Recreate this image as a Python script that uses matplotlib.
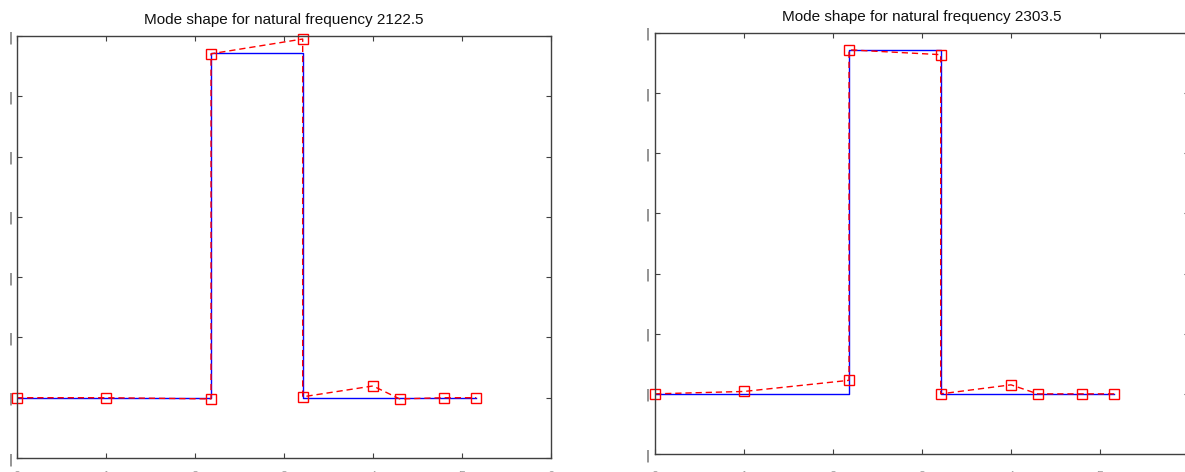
"""Two mode-shape panels: blue step profile with red dashed/square mode shape."""

import matplotlib

matplotlib.use("Agg")
import matplotlib.pyplot as plt

# --------------------------------------------------------------------------- #
#  Data
# --------------------------------------------------------------------------- #

# node positions along the structure (shared by both panels)
node_x = [0.0, 1.0, 2.18, 2.18, 3.21, 3.21, 4.0, 4.3, 4.8, 5.16]

# geometry outline drawn in blue
profile_x = [0.0, 2.18, 2.18, 3.21, 3.21, 5.16]
profile_y = [0.0, 0.0, 1.143, 1.143, 0.0, 0.0]

freq_a = 2122.5
mode_a = [0.0, 0.0, -0.004, 1.141, 1.19, 0.003, 0.039, -0.004, 0.0, 0.0]

freq_b = 2303.5
mode_b = [0.0, 0.008, 0.045, 1.144, 1.128, 0.0, 0.030, 0.0, 0.0, 0.0]

x_ticks = [0, 1, 2, 3, 4, 5, 6]
y_ticks = [-0.2, 0.0, 0.2, 0.4, 0.6, 0.8, 1.0, 1.2]

# --------------------------------------------------------------------------- #
#  Style
# --------------------------------------------------------------------------- #

W, H = 1185, 472
SPINE = "#404040"
BLUE = "#0000ff"
RED = "#ff0000"

plt.rcParams["font.family"] = ["Liberation Sans", "DejaVu Sans"]


def px_axes(fig, left, top, right, bottom):
    return fig.add_axes([left / W, (H - bottom) / H, (right - left) / W, (bottom - top) / H])


def draw_panel(ax, mode, freq, xpad, ypad):
    ax.plot(profile_x, profile_y, "-", color=BLUE, lw=1.0)
    ax.plot(node_x, mode, color=RED, lw=1.0, ls=(0, (4.5, 2.8)),
            marker="s", ms=7, mfc="none", mec=RED, mew=1.0, clip_on=False)

    ax.set_xlim(x_ticks[0], x_ticks[-1])
    ax.set_ylim(y_ticks[0], y_ticks[-1])
    ax.set_xticks(x_ticks)
    ax.set_yticks(y_ticks)
    # both label rows are cropped by the picture edge in the reference
    ax.set_xticklabels([str(t) for t in x_ticks], fontsize=9, color="#a0a0a0")
    ax.set_yticklabels(["|"] * len(y_ticks), fontsize=8.5, color="#303030",
                       family="DejaVu Sans")
    ax.tick_params(direction="in", length=3.6, width=0.8, color=SPINE,
                   top=True, right=True)
    ax.tick_params(axis="y", pad=ypad)
    ax.tick_params(axis="x", pad=xpad)
    for sp in ax.spines.values():
        sp.set_color(SPINE)
        sp.set_linewidth(1.0)
    ax.set_title(f"Mode shape for natural frequency {freq}", fontsize=11,
                 color="#101010", pad=8.5)


fig = plt.figure(figsize=(W / 100, H / 100), dpi=100, facecolor="white")

ax_a = px_axes(fig, 17, 36, 551, 458)
draw_panel(ax_a, mode_a, freq_a, xpad=9.6, ypad=3.2)

ax_b = px_axes(fig, 655, 33, 1189, 454)
draw_panel(ax_b, mode_b, freq_b, xpad=12.5, ypad=3.8)

fig.savefig("out.png", dpi=100, facecolor="white")
